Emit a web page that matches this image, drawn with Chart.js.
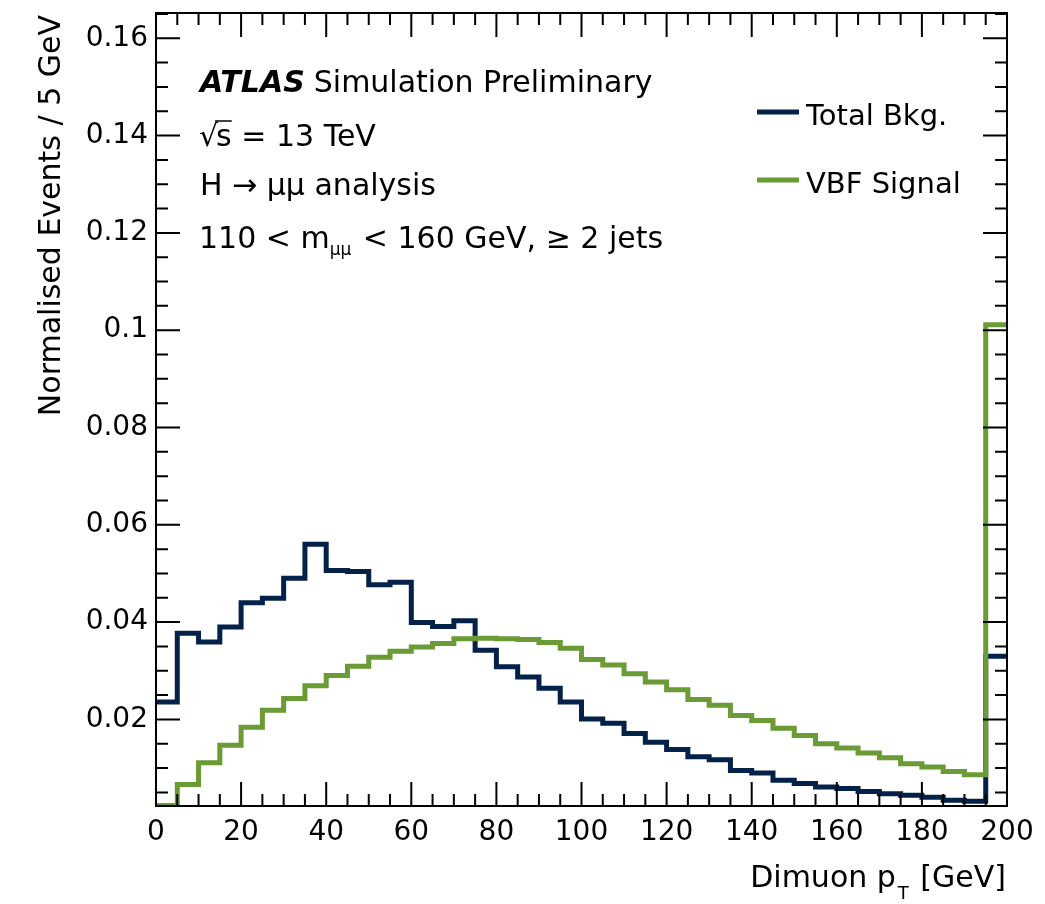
<!DOCTYPE html>
<html>
<head>
<meta charset="utf-8">
<script src="https://cdn.jsdelivr.net/npm/chart.js@4.4.1/dist/chart.umd.min.js"></script>
<style>
  body { margin: 0; background: #fff; }
  #wrap { width: 1045px; height: 904px; }
</style>
</head>
<body>
<div id="wrap"><canvas id="ptChart"></canvas></div>
<script>
// bin lower edges, 5 GeV wide, last bin ends at 200
const binLowEdges = [0, 5, 10, 15, 20, 25, 30, 35, 40, 45, 50, 55, 60, 65, 70, 75, 80, 85, 90, 95,
                     100, 105, 110, 115, 120, 125, 130, 135, 140, 145, 150, 155, 160, 165, 170, 175, 180, 185, 190, 195];
const binUpEdge = 200;

const bkgValues = [0.0236, 0.0377, 0.0359, 0.0390, 0.0440, 0.0449, 0.0490, 0.0560, 0.0506, 0.0504,
                   0.0477, 0.0482, 0.0399, 0.0391, 0.0403, 0.0342, 0.0308, 0.0287, 0.0264, 0.0236,
                   0.0201, 0.0192, 0.0171, 0.0153, 0.0138, 0.0123, 0.0117, 0.0095, 0.0090, 0.0075,
                   0.0068, 0.0061, 0.0058, 0.0052, 0.0047, 0.0044, 0.0040, 0.0034, 0.0032, 0.0330];

const vbfValues = [0.0023, 0.0066, 0.0111, 0.0147, 0.0184, 0.0219, 0.0243, 0.0269, 0.0290, 0.0309,
                   0.0328, 0.0340, 0.0349, 0.0356, 0.0366, 0.0367, 0.0366, 0.0364, 0.0358, 0.0346,
                   0.0323, 0.0312, 0.0294, 0.0277, 0.0261, 0.0241, 0.0229, 0.0208, 0.0198, 0.0182,
                   0.0167, 0.0150, 0.0141, 0.0131, 0.0121, 0.0109, 0.0102, 0.0093, 0.0086, 0.1011];

const xTicks = [0, 20, 40, 60, 80, 100, 120, 140, 160, 180, 200];
const yTicks = [0.02, 0.04, 0.06, 0.08, 0.1, 0.12, 0.14, 0.16];

const seriesNames = ['Total Bkg.', 'VBF Signal'];
const seriesColors = ['#04214a', '#6a9b35'];

const FONT = '"DejaVu Sans"';

function histPoints(vals) {
    const pts = binLowEdges.map((x, i) => ({ x: x, y: vals[i] }));
    pts.push({ x: binUpEdge, y: vals[vals.length - 1] });
    return pts;
}

// frame, inside ticks on all sides, text, legend
const atlasDecor = {
    id: 'atlasDecor',
    afterDraw(chart) {
        const ctx = chart.ctx;
        const a = chart.chartArea;
        const xs = chart.scales.x;
        const ys = chart.scales.y;
        ctx.save();
        ctx.strokeStyle = '#000';
        ctx.lineWidth = 2;
        ctx.strokeRect(a.left, a.top, a.right - a.left, a.bottom - a.top);

        ctx.beginPath();
        for (let v = 0; v <= 200; v += 5) {
            const px = xs.getPixelForValue(v);
            const len = v % 20 === 0 ? 24 : 12;
            ctx.moveTo(px, a.bottom); ctx.lineTo(px, a.bottom - len);
            ctx.moveTo(px, a.top); ctx.lineTo(px, a.top + len);
        }
        for (let k = 1; k <= 33; k++) {
            const v = k * 0.005;
            if (v < ys.min || v > ys.max) continue;
            const py = ys.getPixelForValue(v);
            const len = k % 4 === 0 ? 24 : 12;
            ctx.moveTo(a.left, py); ctx.lineTo(a.left + len, py);
            ctx.moveTo(a.right, py); ctx.lineTo(a.right - len, py);
        }
        ctx.stroke();

        ctx.fillStyle = '#000';
        ctx.textBaseline = 'alphabetic';
        ctx.textAlign = 'left';

        // ATLAS label
        ctx.font = 'italic bold 30px ' + FONT;
        ctx.fillText('ATLAS', 200, 92);
        let w = ctx.measureText('ATLAS').width;
        ctx.font = '30px ' + FONT;
        ctx.fillText('Simulation Preliminary', 200 + w + 9, 92);

        // sqrt(s)
        ctx.font = '30px ' + FONT;
        ctx.fillText('\u221A', 199, 146);
        const wr = ctx.measureText('\u221A').width;
        ctx.fillText('s = 13 TeV', 199 + wr - 2, 146);
        const ws = ctx.measureText('s').width;
        ctx.lineWidth = 1.5;
        ctx.beginPath();
        ctx.moveTo(199 + wr - 3, 121);
        ctx.lineTo(199 + wr - 2 + ws, 121);
        ctx.stroke();

        ctx.fillText('H \u2192 \u03BC\u03BC analysis', 200, 195);

        let x0 = 199;
        const t1 = '110 < m';
        ctx.fillText(t1, x0, 248);
        x0 += ctx.measureText(t1).width;
        ctx.font = '17px ' + FONT;
        ctx.fillText('\u03BC\u03BC', x0, 255);
        x0 += ctx.measureText('\u03BC\u03BC').width + 2;
        ctx.font = '30px ' + FONT;
        ctx.fillText(' < 160 GeV, \u2265 2 jets', x0, 248);

        // legend
        const legY = [112, 180];
        seriesNames.forEach((name, i) => {
            ctx.strokeStyle = seriesColors[i];
            ctx.lineWidth = 5;
            ctx.beginPath();
            ctx.moveTo(757, legY[i]);
            ctx.lineTo(799, legY[i]);
            ctx.stroke();
            ctx.font = '29px ' + FONT;
            ctx.fillText(name, 806, legY[i] + 13);
        });

        // axis titles
        ctx.font = '30px ' + FONT;
        ctx.textAlign = 'right';
        const tx = 'Dimuon p';
        const tx2 = ' [GeV]';
        const wT = ctx.measureText(tx2).width;
        ctx.fillText(tx2, 1006, 887);
        ctx.font = '18px ' + FONT;
        const wSub = ctx.measureText('T').width;
        ctx.fillText('T', 1006 - wT - 2, 899);
        ctx.font = '30px ' + FONT;
        ctx.fillText(tx, 1006 - wT - wSub - 4, 887);

        ctx.translate(60, 15);
        ctx.rotate(-Math.PI / 2);
        ctx.textAlign = 'right';
        ctx.fillText('Normalised Events / 5 GeV', 0, 0);
        ctx.restore();
    }
};

const ctx = document.getElementById('ptChart').getContext('2d');
const ptChart = new Chart(ctx, {
    type: 'line',
    data: {
        datasets: [
            {
                label: seriesNames[0],
                data: histPoints(bkgValues),
                borderColor: seriesColors[0],
                borderWidth: 5,
                stepped: 'before',
                order: 1
            },
            {
                label: seriesNames[1],
                data: histPoints(vbfValues),
                borderColor: seriesColors[1],
                borderWidth: 5,
                stepped: 'before',
                order: 0
            }
        ]
    },
    options: {
        responsive: true,
        maintainAspectRatio: false,
        animation: false,
        layout: { padding: { left: 0, right: 38, top: 13, bottom: 0 } },
        elements: {
            point: { radius: 0 },
            line: { fill: false, tension: 0, borderJoinStyle: 'miter', borderCapStyle: 'butt' }
        },
        plugins: {
            legend: { display: false },
            tooltip: { enabled: false }
        },
        scales: {
            x: {
                type: 'linear',
                min: 0,
                max: 200,
                afterBuildTicks: (scale) => { scale.ticks = xTicks.map(v => ({ value: v })); },
                afterFit: (scale) => { scale.height = 98; scale.paddingLeft = 0; scale.paddingRight = 0; },
                ticks: {
                    color: '#000',
                    font: { family: FONT, size: 28 },
                    padding: 10,
                    maxRotation: 0,
                    autoSkip: false
                },
                grid: { display: false, drawTicks: false },
                border: { display: false }
            },
            y: {
                min: 0.0022,
                max: 0.1652,
                afterBuildTicks: (scale) => { scale.ticks = yTicks.map(v => ({ value: v })); },
                afterFit: (scale) => { scale.width = 156; scale.paddingTop = 0; scale.paddingBottom = 0; },
                ticks: {
                    color: '#000',
                    font: { family: FONT, size: 28 },
                    padding: 8,
                    autoSkip: false,
                    callback: (v) => String(Number(v.toFixed(3)))
                },
                grid: { display: false, drawTicks: false },
                border: { display: false }
            }
        }
    },
    plugins: [atlasDecor]
});
</script>
</body>
</html>
